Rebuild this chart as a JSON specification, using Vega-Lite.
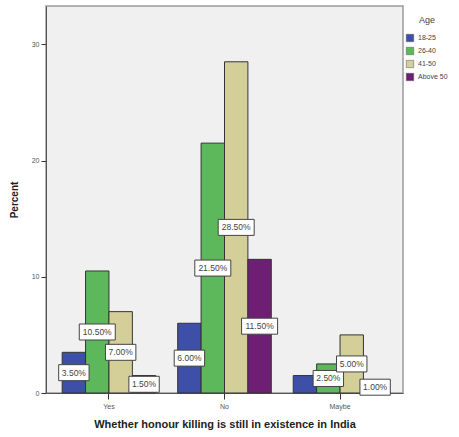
{
  "$schema": "https://vega.github.io/schema/vega-lite/v6.json",
  "autosize": "none",
  "width": 357,
  "height": 387,
  "padding": {"left": 46, "top": 6, "right": 56, "bottom": 44},
  "background": "white",
  "config": {
    "font": "Liberation Sans",
    "view": {"fill": "#f0f0f0", "stroke": "#9a9a9a", "strokeWidth": 1.5}
  },
  "data": {
    "values": [
      {"answer": "Yes", "age": "18-25", "pct": 3.5},
      {"answer": "Yes", "age": "26-40", "pct": 10.5},
      {"answer": "Yes", "age": "41-50", "pct": 7.0},
      {"answer": "Yes", "age": "Above 50", "pct": 1.5},
      {"answer": "No", "age": "18-25", "pct": 6.0},
      {"answer": "No", "age": "26-40", "pct": 21.5},
      {"answer": "No", "age": "41-50", "pct": 28.5},
      {"answer": "No", "age": "Above 50", "pct": 11.5},
      {"answer": "Maybe", "age": "18-25", "pct": 1.5},
      {"answer": "Maybe", "age": "26-40", "pct": 2.5},
      {"answer": "Maybe", "age": "41-50", "pct": 5.0},
      {"answer": "Maybe", "age": "Above 50", "pct": 1.0}
    ]
  },
  "encoding": {
    "x": {
      "field": "answer", "type": "nominal", "sort": ["Yes", "No", "Maybe"],
      "scale": {"paddingInner": 0.19, "paddingOuter": 0.14},
      "axis": {
        "title": "Whether honour killing is still in existence in India",
        "labelAngle": 0, "labelFontSize": 7, "labelColor": "#555",
        "labelPadding": 3, "tickSize": 6, "tickColor": "#333", "domainColor": "#555",
        "titleFontSize": 11, "titleFontWeight": "bold", "titleColor": "#222", "titlePadding": 9
      }
    },
    "xOffset": {"field": "age", "type": "nominal", "sort": ["18-25", "26-40", "41-50", "Above 50"]}
  },
  "layer": [
    {
      "mark": {"type": "bar", "stroke": "#333", "strokeWidth": 1},
      "encoding": {
        "y": {
          "field": "pct", "type": "quantitative",
          "scale": {"domain": [0, 33.3], "nice": false},
          "axis": {
            "title": "Percent", "values": [0, 10, 20, 30], "grid": false,
            "labelFontSize": 7, "labelColor": "#555", "labelPadding": 2,
            "tickSize": 5, "tickColor": "#333", "domainColor": "#555",
            "titleFontSize": 10, "titleFontWeight": "bold", "titleColor": "#222", "titlePadding": 12
          }
        },
        "color": {
          "field": "age", "type": "nominal", "title": "Age",
          "scale": {"domain": ["18-25", "26-40", "41-50", "Above 50"], "range": ["#3d4fa6", "#5cb85a", "#d4cf98", "#6f1f73"]},
          "legend": {
            "orient": "none", "legendX": 360, "legendY": 10, "symbolType": "square", "symbolSize": 55,
            "symbolStrokeColor": "#555", "symbolStrokeWidth": 0.5,
            "labelFontSize": 7, "labelColor": "#444", "titleFontSize": 9, "titleColor": "#444",
            "titleFontWeight": "normal", "titleAnchor": "middle", "rowPadding": 3, "titlePadding": 9
          }
        }
      }
    },
    {
      "transform": [
        {"filter": "!(datum.answer == 'Maybe' && datum.age == '18-25')"},
        {"calculate": "datum.pct / 2", "as": "mid"}
      ],
      "mark": {"type": "point", "filled": true, "fill": "white", "stroke": "#444", "strokeWidth": 1, "opacity": 1, "size": 1600},
      "encoding": {
        "y": {"field": "mid", "type": "quantitative"},
        "shape": {
          "condition": {"test": "datum.pct >= 10", "value": "M-0.9,-0.4H0.9V0.4H-0.9Z"},
          "value": "M-0.76,-0.4H0.76V0.4H-0.76Z"
        }
      }
    },
    {
      "transform": [
        {"filter": "!(datum.answer == 'Maybe' && datum.age == '18-25')"},
        {"calculate": "datum.pct / 2", "as": "mid"},
        {"calculate": "format(datum.pct, '.2f') + '%'", "as": "label"}
      ],
      "mark": {"type": "text", "fontSize": 8.5, "color": "#444", "baseline": "middle", "align": "center"},
      "encoding": {
        "y": {"field": "mid", "type": "quantitative"},
        "text": {"field": "label"}
      }
    }
  ]
}
